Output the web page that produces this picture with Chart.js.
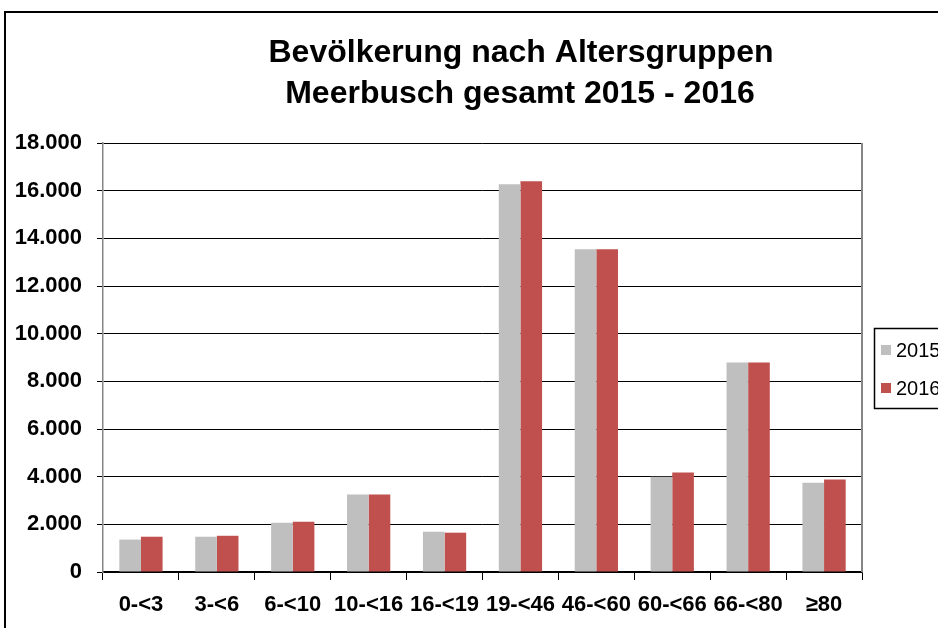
<!DOCTYPE html>
<html>
<head>
<meta charset="utf-8">
<script src="https://cdn.jsdelivr.net/npm/chart.js@4"></script>
<style>
html,body{margin:0;padding:0;background:#fff;}
#wrap{position:relative;width:938px;height:628px;}
</style>
</head>
<body>
<div id="wrap"><canvas id="c" width="938" height="628"></canvas></div>
<script>
const categories = ['0-<3','3-<6','6-<10','10-<16','16-<19','19-<46','46-<60','60-<66','66-<80','≥80'];
const seriesNames = ['2015','2016'];
const values2015 = [1360,1480,2070,3250,1690,16270,13540,4000,8790,3750];
const values2016 = [1480,1520,2110,3250,1650,16400,13540,4170,8790,3880];
const titleLines = ['Bevölkerung nach Altersgruppen','Meerbusch gesamt 2015 - 2016'];
const yMax = 18000;
const yStep = 2000;

const FONT = "'Liberation Sans', Arial, sans-serif";

const decor = {
  id: 'decor',
  beforeDraw(chart) {
    const ctx = chart.ctx;
    ctx.save();
    ctx.fillStyle = '#fff';
    ctx.fillRect(0,0,chart.width,chart.height);
    ctx.strokeStyle = '#000';
    ctx.lineWidth = 2;
    ctx.beginPath();
    ctx.moveTo(5, chart.height);
    ctx.lineTo(5, 12);
    ctx.lineTo(chart.width, 12);
    ctx.stroke();
    ctx.restore();
  },
  afterDraw(chart) {
    const ctx = chart.ctx;
    const a = chart.chartArea;
    ctx.save();
    ctx.strokeStyle = '#868686';
    ctx.lineWidth = 2;
    ctx.beginPath();
    ctx.moveTo(a.right, a.top);
    ctx.lineTo(a.right, a.bottom);
    ctx.stroke();
    ctx.fillStyle = '#000';
    ctx.font = "bold 32px " + FONT;
    ctx.textAlign = 'center';
    ctx.textBaseline = 'middle';
    ctx.fillText(titleLines[0], 521, 53);
    ctx.fillText(titleLines[1], 520, 94);
    ctx.strokeStyle = '#000';
    ctx.lineWidth = 1.5;
    ctx.strokeRect(874.5, 328.5, 80, 80);
    const ds = chart.data.datasets;
    ctx.font = "20px " + FONT;
    ctx.textAlign = 'left';
    ds.forEach((d, i) => {
      const y = 350 + i * 38;
      ctx.fillStyle = d.backgroundColor;
      ctx.fillRect(881, y - 5, 10, 10);
      ctx.fillStyle = '#000';
      ctx.fillText(d.label, 896, y + 1);
    });
    ctx.restore();
  }
};

new Chart(document.getElementById('c'), {
  type: 'bar',
  data: {
    labels: categories,
    datasets: [
      { label: seriesNames[0], data: values2015, backgroundColor: '#BFBFBF', categoryPercentage: 0.57, barPercentage: 1.0 },
      { label: seriesNames[1], data: values2016, backgroundColor: '#C0504D', categoryPercentage: 0.57, barPercentage: 1.0 }
    ]
  },
  options: {
    responsive: false,
    animation: false,
    events: [],
    layout: { padding: { left: 0, right: 76, top: 143, bottom: 0 } },
    plugins: { legend: { display: false }, title: { display: false }, tooltip: { enabled: false } },
    scales: {
      x: {
        grid: { display: true, drawOnChartArea: false, offset: true, color: '#000', tickLength: 8, lineWidth: 1 },
        border: { display: true, color: '#000', width: 1.5 },
        ticks: { color: '#000', font: { family: FONT, size: 22, weight: 'bold' }, padding: 12, maxRotation: 0, autoSkip: false },
        afterFit(s) { s.height = 56; }
      },
      y: {
        min: 0, max: yMax,
        grid: { color: '#000', lineWidth: 1, tickLength: 6 },
        border: { display: true, color: '#868686', width: 1.5 },
        ticks: {
          stepSize: yStep, color: '#000', padding: 15,
          font: { family: FONT, size: 22, weight: 'bold' },
          callback: v => v.toLocaleString('de-DE')
        },
        afterFit(s) { s.width = 103; }
      }
    }
  },
  plugins: [decor]
});
</script>
</body>
</html>
